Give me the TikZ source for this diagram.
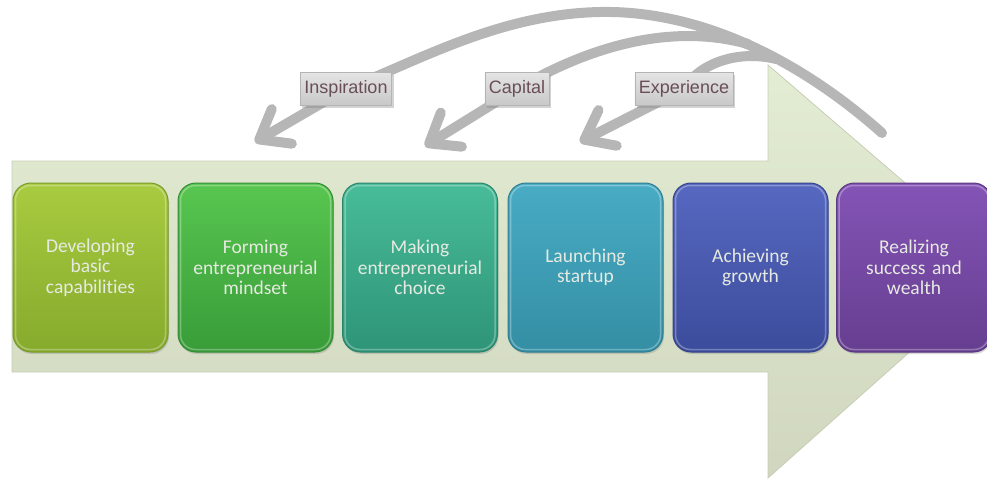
\documentclass[tikz,border=0pt]{standalone}
\usepackage{fontspec}
\setmainfont{Carlito}[Ligatures=NoCommon]
\newfontfamily\labfont{Liberation Sans}
\usetikzlibrary{arrows.meta,shadows}
\pgfdeclarelayer{back}
\pgfdeclarelayer{mid}
\pgfsetlayers{back,mid,main}
\definecolor{b1t}{HTML}{A8CB40}\definecolor{b1b}{HTML}{86AA2C}\definecolor{b1e}{HTML}{7A9A2A}
\definecolor{b2t}{HTML}{58C650}\definecolor{b2b}{HTML}{389C38}\definecolor{b2e}{HTML}{348C34}
\definecolor{b3t}{HTML}{48BC98}\definecolor{b3b}{HTML}{2E9478}\definecolor{b3e}{HTML}{2A846C}
\definecolor{b4t}{HTML}{48ACC4}\definecolor{b4b}{HTML}{348EA4}\definecolor{b4e}{HTML}{2E7E92}
\definecolor{b5t}{HTML}{5668C0}\definecolor{b5b}{HTML}{3C4C9C}\definecolor{b5e}{HTML}{36448A}
\definecolor{b6t}{HTML}{8454B6}\definecolor{b6b}{HTML}{663E90}\definecolor{b6e}{HTML}{5A3880}
\definecolor{stagetext}{HTML}{E6EAE2}
\definecolor{tagtop}{HTML}{E4E4E4}\definecolor{tagbot}{HTML}{C8C8C8}\definecolor{tagedge}{HTML}{B4B4B4}
\definecolor{tagtext}{HTML}{6A4E56}
\definecolor{arrowgray}{HTML}{B6B6B6}
\definecolor{flowtop}{HTML}{E3EDD4}\definecolor{flowbot}{HTML}{D0D7BE}\definecolor{flowedge}{HTML}{C8CEB6}
\tikzset{
  stage/.style={rounded corners=18pt, minimum width=155pt, minimum height=169pt,
    text width=146pt, align=center, inner sep=0pt, line width=1pt,
    font=\fontsize{19.5}{20.5}\selectfont, text=stagetext,
    drop shadow={opacity=0.3, shadow xshift=1pt, shadow yshift=-2pt}},
  rim/.style={draw=white, draw opacity=0.3, line width=1.5pt, rounded corners=15pt},
  tag/.style={font=\labfont\fontsize{18}{20}\selectfont, text=tagtext,
    top color=tagtop, bottom color=tagbot, draw=tagedge, line width=0.6pt,
    minimum height=33pt, inner xsep=4pt, inner ysep=0pt,
    drop shadow={opacity=0.35, shadow xshift=2pt, shadow yshift=-2pt}},
  garrow/.style={draw=arrowgray, line width=10pt, line cap=round},
  gtip/.style={-{Straight Barb[length=26pt,width=40pt,round]}},
  flow/.style={top color=flowtop, bottom color=flowbot, draw=flowedge, line width=0.8pt}
}
\begin{document}
\begin{tikzpicture}[x=1pt,y=-1pt]
\useasboundingbox (0,0) rectangle (987,479);
\begin{pgfonlayer}{back}
\path[flow] (12,161) -- (768,161) -- (768,65) -- (1004,268) -- (768,478) -- (768,372) -- (12,372) -- cycle;
\end{pgfonlayer}
% stages
\node[stage, top color=b1t, bottom color=b1b, draw=b1e] (s1) at (90.5,267.5) {Developing\\basic\\capabilities};
\node[stage, top color=b2t, bottom color=b2b, draw=b2e] (s2) at (255.5,267.5) {Forming\\entrepreneurial\\mindset};
\node[stage, top color=b3t, bottom color=b3b, draw=b3e] (s3) at (420,267.5) {Making\\entrepreneurial\\choice};
\node[stage, top color=b4t, bottom color=b4b, draw=b4e] (s4) at (585.5,267.5) {Launching\\startup};
\node[stage, top color=b5t, bottom color=b5b, draw=b5e] (s5) at (750.5,267.5) {Achieving\\growth};
\node[stage, top color=b6t, bottom color=b6b, draw=b6e] (s6) at (914,267.5) {Realizing\\success and\\wealth};
\foreach \n in {s1,s2,s3,s4,s5,s6}
  \draw[rim] ([xshift=3pt,yshift=-3pt]\n.north west) rectangle ([xshift=-3pt,yshift=3pt]\n.south east);
% labels
\node[tag] (insp) at (346,89) {Inspiration};
\node[tag] (cap) at (517,89) {Capital};
\node[tag] (exp) at (684,89) {Experience};
% connector ends
\coordinate (src) at (882,133);
\coordinate (m2) at (748,44);
\coordinate (m3) at (776,59);
\coordinate (tI) at (255,142);
\coordinate (tC) at (425,146);
\coordinate (tE) at (580,142);
\begin{pgfonlayer}{mid}
\draw[garrow] (src) .. controls (800,60) and (700,10) .. (600,12) .. controls (500,14) and (420,60) .. (insp.center);
\draw[garrow,gtip] (insp.center) -- (tI);
\draw[garrow] (m2) .. controls (680,25) and (600,40) .. (cap.center);
\draw[garrow,gtip] (cap.center) -- (tC);
\draw[garrow] (m3) .. controls (740,50) and (700,62) .. (exp.center);
\draw[garrow,gtip] (exp.center) -- (tE);
\end{pgfonlayer}
\end{tikzpicture}
\end{document}
